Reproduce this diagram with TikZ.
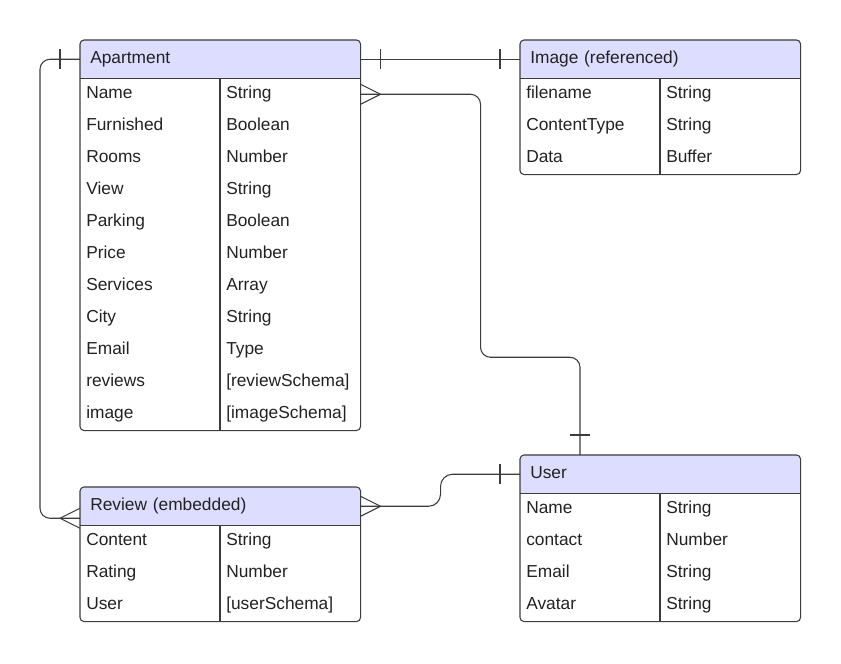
\documentclass[tikz,border=0pt]{standalone}
\usepackage{fontspec}
\setmainfont{Liberation Sans}
\usetikzlibrary{positioning,calc,backgrounds}

\definecolor{hdrfill}{HTML}{DDDDFF}
\definecolor{edge}{HTML}{3C3C3C}
\definecolor{ink}{HTML}{222222}

\begin{document}
\begin{tikzpicture}[x=0.75pt, y=-0.75pt,
  every node/.style={font=\fontsize{13}{15}\selectfont, text=ink},
  entity/.style={anchor=north west, minimum width=210pt, minimum height=28.5pt, inner xsep=7.5pt, text width=195pt, align=left, text height=9.5pt, text depth=2.5pt},
  field/.style={anchor=north west, minimum width=105pt, minimum height=24pt, inner xsep=4.5pt, text width=96pt, align=left, text height=9.5pt, text depth=2.5pt},
  frame/.style={draw=edge, line width=0.8pt, rounded corners=3pt},
  rule/.style={draw=edge, line width=0.8pt},
  conn/.style={draw=edge, line width=0.8pt, rounded corners=7.5pt},
  tick/.style={draw=edge, line width=0.8pt}
]
\useasboundingbox (0,0) rectangle (841,663);

% Apartment
\node[entity] (apt) at (80,40) {Apartment};
\foreach \n/\t [count=\i] in {Name/String, Furnished/Boolean, Rooms/Number, View/String, Parking/Boolean, Price/Number, Services/Array, City/String, Email/Type, reviews/[reviewSchema], image/[imageSchema]}{
  \node[field] (apt-n\i) at (80,{78+32*(\i-1)}) {\n};
  \node[field] (apt-t\i) at (220,{78+32*(\i-1)}) {\t};
}

% Image (referenced)
\node[entity] (img) at (520,40) {Image (referenced)};
\foreach \n/\t [count=\i] in {filename/String, ContentType/String, Data/Buffer}{
  \node[field] (img-n\i) at (520,{78+32*(\i-1)}) {\n};
  \node[field] (img-t\i) at (660,{78+32*(\i-1)}) {\t};
}

% User
\node[entity] (usr) at (520,455) {User};
\foreach \n/\t [count=\i] in {Name/String, contact/Number, Email/String, Avatar/String}{
  \node[field] (usr-n\i) at (520,{493+32*(\i-1)}) {\n};
  \node[field] (usr-t\i) at (660,{493+32*(\i-1)}) {\t};
}

% Review (embedded)
\node[entity] (rev) at (80,487) {Review (embedded)};
\foreach \n/\t [count=\i] in {Content/String, Rating/Number, User/[userSchema]}{
  \node[field] (rev-n\i) at (80,{525+32*(\i-1)}) {\n};
  \node[field] (rev-t\i) at (220,{525+32*(\i-1)}) {\t};
}

% header fills
\begin{scope}[on background layer]
  \foreach \h in {apt,img,usr,rev}{
    \fill[hdrfill, rounded corners=3pt] (\h.north west) rectangle (\h.south east);
    \fill[hdrfill] (\h.west) rectangle (\h.south east);
  }
\end{scope}

% table frames
\draw[frame] (apt.north west) rectangle (apt-t11.south east);
\draw[rule] (apt.south west) -- (apt.south east);
\draw[rule] (apt-t1.north west) -- (apt-t11.south west);

\draw[frame] (img.north west) rectangle (img-t3.south east);
\draw[rule] (img.south west) -- (img.south east);
\draw[rule] (img-t1.north west) -- (img-t3.south west);

\draw[frame] (usr.north west) rectangle (usr-t4.south east);
\draw[rule] (usr.south west) -- (usr.south east);
\draw[rule] (usr-t1.north west) -- (usr-t4.south west);

\draw[frame] (rev.north west) rectangle (rev-t3.south east);
\draw[rule] (rev.south west) -- (rev.south east);
\draw[rule] (rev-t1.north west) -- (rev-t3.south west);

% Apartment -- Review
\coordinate (rev-in) at ($(rev.west)+(0,12)$);
\draw[conn] (apt.west) -- ++(-40,0) |- (rev-in);
\draw[tick] ($(apt.west)+(-20,-10)$) -- ++(0,20);
\draw[tick] ($(rev-in)+(-20,0)$) -- ($(rev-in)+(0,-10)$);
\draw[tick] ($(rev-in)+(-20,0)$) -- ($(rev-in)+(0,10)$);

% Apartment -- Image
\draw[conn] (apt.east) -- (img.west);
\draw[tick] ($(apt.east)+(20,-10)$) -- ++(0,20);
\draw[tick] ($(img.west)+(-20,-10)$) -- ++(0,20);

% Apartment -- User
\coordinate (usr-top) at ($(usr.north west)+(60,0)$);
\draw[conn] (apt-t1.east) -- ++(120,0) -- ++(0,263) -| (usr-top);
\draw[tick] ($(apt-t1.east)+(20,0)$) -- ($(apt-t1.east)+(0,-10)$);
\draw[tick] ($(apt-t1.east)+(20,0)$) -- ($(apt-t1.east)+(0,10)$);
\draw[tick] ($(usr-top)+(-10,-20)$) -- ++(20,0);

% Review -- User
\draw[conn, rounded corners=9pt] (rev.east) -- ++(80,0) |- (usr.west);
\draw[tick] ($(rev.east)+(20,0)$) -- ($(rev.east)+(0,-10)$);
\draw[tick] ($(rev.east)+(20,0)$) -- ($(rev.east)+(0,10)$);
\draw[tick] ($(usr.west)+(-20,-10)$) -- ++(0,20);

\end{tikzpicture}
\end{document}
